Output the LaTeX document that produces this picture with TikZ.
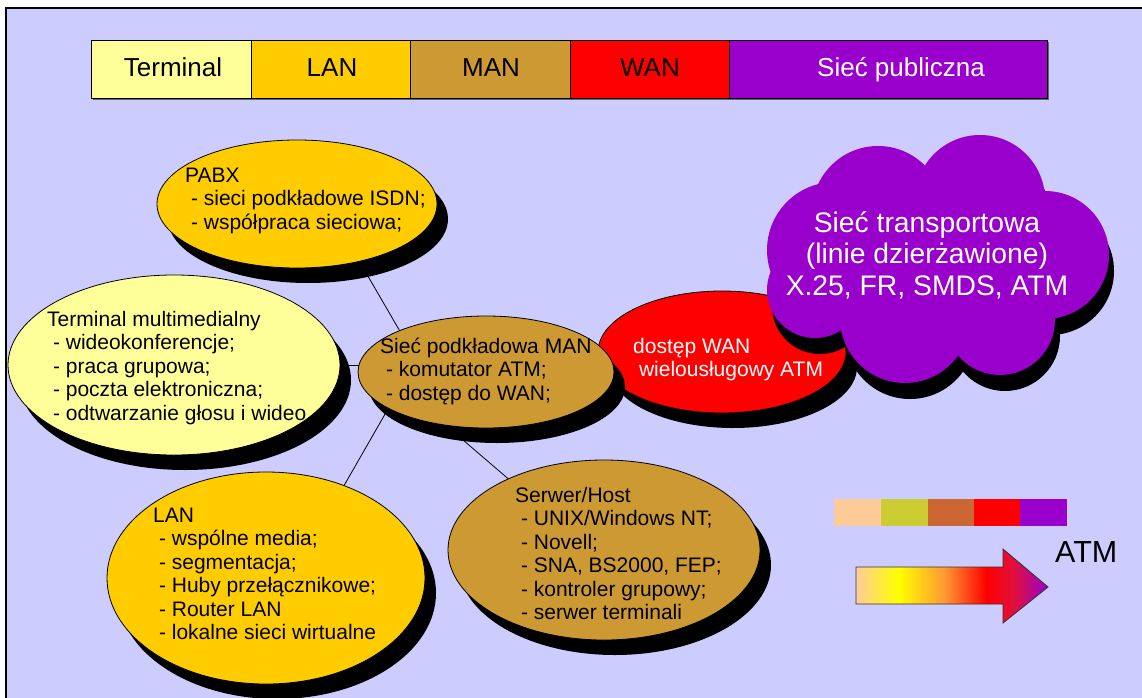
\documentclass[tikz,border=0pt]{standalone}
\usepackage{fontspec}
\setmainfont{Liberation Sans}
\usetikzlibrary{shapes.geometric,shadows}

\definecolor{bgblue}{HTML}{CCCCFF}
\definecolor{paleyellow}{HTML}{FFFF99}
\definecolor{gold}{HTML}{FFCC00}
\definecolor{tan}{HTML}{CC9933}
\definecolor{wanred}{HTML}{FF0000}
\definecolor{violet}{HTML}{9900CC}
\definecolor{peach}{HTML}{FFCC99}
\definecolor{olive}{HTML}{CCCC33}
\definecolor{rust}{HTML}{CC6633}
\definecolor{brightyellow}{HTML}{FFFF00}
\definecolor{orangeA}{HTML}{FF9933}
\definecolor{crimson}{HTML}{E0103C}

% colour run of the ATM arrow (the path box spans 25bp..75bp)
\pgfdeclarehorizontalshading{atmgrad}{100bp}{color(0bp)=(peach); color(25bp)=(peach);
  color(36bp)=(brightyellow); color(48bp)=(orangeA); color(59bp)=(wanred);
  color(66bp)=(crimson); color(75bp)=(violet); color(100bp)=(violet)}

\newcommand\ind{\hspace*{0.278em}}
\newcommand\txtlines[1]{\begin{tabular}[t]{@{}l@{}}#1\end{tabular}}
\newcommand\txtcenter[1]{\begin{tabular}[t]{@{}c@{}}#1\end{tabular}}

\begin{document}
\begin{tikzpicture}[x=1pt,y=-1pt,
  bubble/.style={ellipse, draw=black, line width=0.8pt, inner sep=0pt,
    drop shadow={shadow xshift=11pt, shadow yshift=-15pt, opacity=1, fill=black}},
  bodytext/.style={font=\fontsize{21pt}{23.5pt}\selectfont, inner sep=0pt, anchor=base west},
  bartext/.style={font=\fontsize{26pt}{29pt}\selectfont, inner sep=0pt, anchor=base},
  cell/.style={draw=black, line width=0.8pt},
  link/.style={draw=black, line width=0.8pt}]

\useasboundingbox (0,0) rectangle (1142,698);
\fill[white] (0,0) rectangle (1142,698);
\draw[fill=bgblue, line width=1.2pt] (6,8) rectangle (1160,720);

% legend bar
\fill[black!60] (93,42) rectangle (1049,100);
\path[cell, fill=paleyellow] (91,40) rectangle (251,98);
\path[cell, fill=gold] (251,40) rectangle (410,98);
\path[cell, fill=tan] (410,40) rectangle (570,98);
\path[cell, fill=wanred] (570,40) rectangle (729,98);
\path[cell, fill=violet] (729,40) rectangle (1047,98);
\node[bartext] (barterm) at (173,77) {Terminal};
\node[bartext] (barlan) at (332,77) {LAN};
\node[bartext] (barman) at (491,77) {MAN};
\node[bartext] (barwan) at (650,77) {WAN};
\node[bartext, text=white] (barpub) at (901,77) {Sieć publiczna};

% bubble centres
\path (297,204) coordinate (pabxc);
\path (174,365) coordinate (termc);
\path (486,372) coordinate (manc);
\path (722,352) coordinate (wanc);
\path (266,578) coordinate (lanc);
\path (604,550) coordinate (srvc);

% links between the bubbles, drawn underneath them
\draw[link] ([shift={(50,36)}]pabxc) coordinate (l1a) -- ([shift={(-81,-32)}]manc) coordinate (l1b);
\draw[link] ([shift={(126,0)}]termc) coordinate (l2a) -- ([shift={(-86,-7)}]manc) coordinate (l2b);
\draw[link] ([shift={(-90,23)}]manc) coordinate (l3a) -- ([shift={(64,-68)}]lanc) coordinate (l3b);
\draw[link] ([shift={(-58,38)}]manc) coordinate (l4a) -- ([shift={(-71,-50)}]srvc) coordinate (l4b);

% bubbles
\node[bubble, fill=gold, minimum width=280pt, minimum height=128pt] (pabx) at (pabxc) {};
\node[bubble, fill=paleyellow, minimum width=332pt, minimum height=180pt] (term) at (termc) {};
\node[bubble, fill=gold, minimum width=318pt, minimum height=212pt] (lan) at (lanc) {};
\node[bubble, fill=tan, minimum width=312pt, minimum height=180pt] (srv) at (srvc) {};
\node[bubble, fill=wanred, minimum width=248pt, minimum height=122pt] (wan) at (wanc) {};
\node[bubble, fill=tan, minimum width=256pt, minimum height=112pt] (man) at (manc) {};

% transport network cloud with its shadow
\begin{scope}[shift={(5,16)}]
  \fill[black] (940,260) ellipse[x radius=120, y radius=85];
  \foreach \cx/\cy/\r in {835/250/68, 878/212/66, 980/200/65, 1045/255/64,
                          1000/320/55, 905/318/65, 815/290/48}
    \fill[black] (\cx,\cy) circle[radius=\r];
\end{scope}
\fill[violet] (940,260) ellipse[x radius=120, y radius=85];
\foreach \cx/\cy/\r in {835/250/68, 878/212/66, 980/200/65, 1045/255/64,
                        1000/320/55, 905/318/65, 815/290/48}
  \fill[violet] (\cx,\cy) circle[radius=\r];

% bubble texts
\node[bodytext] (pabxtxt) at (185,182) {\txtlines{PABX\\
  \ind- sieci podkładowe ISDN;\\
  \ind- współpraca sieciowa;}};
\node[bodytext] (termtxt) at (47,326) {\txtlines{Terminal multimedialny\\
  \ind- wideokonferencje;\\
  \ind- praca grupowa;\\
  \ind- poczta elektroniczna;\\
  \ind- odtwarzanie głosu i wideo}};
\node[bodytext] (mantxt) at (380,353) {\txtlines{Sieć podkładowa MAN\\
  \ind- komutator ATM;\\
  \ind- dostęp do WAN;}};
\node[bodytext, text=white] (wantxt) at (633,353) {\txtlines{dostęp WAN\\
  \ind wielousługowy ATM}};
\node[bodytext] (lantxt) at (153,522) {\txtlines{LAN\\
  \ind- wspólne media;\\
  \ind- segmentacja;\\
  \ind- Huby przełącznikowe;\\
  \ind- Router LAN\\
  \ind- lokalne sieci wirtualne}};
\node[bodytext] (srvtxt) at (515,502) {\txtlines{Serwer/Host\\
  \ind- UNIX/Windows NT;\\
  \ind- Novell;\\
  \ind- SNA, BS2000, FEP;\\
  \ind- kontroler grupowy;\\
  \ind- serwer terminali}};
\node[font=\fontsize{28.3pt}{31.5pt}\selectfont, text=white, inner sep=0pt, anchor=base]
  (cloudtxt) at (927,232) {\txtcenter{Sieć transportowa\\(linie dzierżawione)\\X.25, FR, SMDS, ATM}};

% colour strip
\fill[peach] (834,499) rectangle (881,526);
\fill[olive] (881,499) rectangle (928,526);
\fill[rust] (928,499) rectangle (974,526);
\fill[wanred] (974,499) rectangle (1020,526);
\fill[violet] (1020,499) rectangle (1067,526);

% ATM arrow
\path[shading=atmgrad, draw=black!80, line width=0.8pt]
  (856,567) -- (1003,567) -- (1003,549) -- (1048,587) -- (1003,623) -- (1003,604) -- (856,604) -- cycle;
\node[font=\fontsize{30.5pt}{33pt}\selectfont, inner sep=0pt, anchor=base west] (atm) at (1055,562) {ATM};

\end{tikzpicture}
\end{document}
